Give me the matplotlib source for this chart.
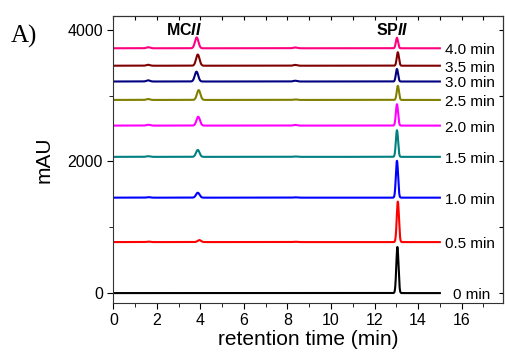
import numpy as np
import matplotlib.pyplot as plt

plt.rcParams['font.family'] = ['Liberation Sans', 'DejaVu Sans']
plt.rcParams['mathtext.fontset'] = 'custom'
plt.rcParams['mathtext.rm'] = 'Liberation Sans'
plt.rcParams['mathtext.bf'] = 'Liberation Sans:bold'
plt.rcParams['mathtext.bfit'] = 'Liberation Sans:italic:bold'

# irradiation times, trace colours, baseline offsets (mAU)
labels = ['0 min', '0.5 min', '1.0 min', '1.5 min', '2.0 min',
          '2.5 min', '3.0 min', '3.5 min', '4.0 min']
colors = ['#000000', '#ff0000', '#0000ff', '#008080', '#ff00ff',
          '#808000', '#000080', '#800000', '#ff0080']
offsets = [0, 775, 1450, 2070, 2545, 2935, 3215, 3455, 3720]

# peak heights (mAU above baseline)
mc_height = [0, 30, 75, 105, 135, 150, 150, 170, 165]
sp_height = [700, 615, 560, 405, 325, 215, 190, 205, 160]
mc_time = [3.9, 3.95, 3.88, 3.88, 3.9, 3.92, 3.82, 3.88, 3.83]
sp_time = [13.05, 13.07, 13.03, 13.03, 13.03, 13.07, 13.03, 13.07, 13.03]
# small impurity bumps
bump_time = [1.6, 8.35]
bump_height = [[0, 0], [8, 5], [8, 5], [10, 6], [12, 10],
                [14, 8], [18, 12], [14, 12], [16, 12]]

t = np.linspace(0, 15, 3000)

fig = plt.figure(figsize=(5.05, 3.56), dpi=100)
ax = fig.add_axes([0.2244, 0.149, 0.7716, 0.806])

for i in range(len(labels)):
    y = np.full_like(t, offsets[i], dtype=float)
    y += mc_height[i] * np.exp(-0.5 * ((t - mc_time[i]) / 0.08) ** 2)
    y += sp_height[i] * np.exp(-0.5 * ((t - sp_time[i]) / 0.05) ** 2)
    for bt, bh in zip(bump_time, bump_height[i]):
        y += bh * np.exp(-0.5 * ((t - bt) / 0.08) ** 2)
    ax.plot(t, y, color=colors[i], lw=1.5)
    xl = 15.6 if labels[i] == '0 min' else 15.25
    ax.text(xl, offsets[i] - 30, labels[i], fontsize=11, va='center', ha='left')

ax.text(3.25, 4000, r'$\mathbf{MC}\boldsymbol{II}$', fontsize=11.5, ha='center', va='center')
ax.text(12.8, 4000, r'$\mathbf{SP}\boldsymbol{II}$', fontsize=11.5, ha='center', va='center')

ax.set_xlim(0, 17.9)
ax.set_ylim(-150, 4210)
ax.set_xticks(np.arange(0, 17, 2))
ax.set_xticks(np.arange(1, 18, 2), minor=True)
ax.set_yticks([0, 2000, 4000])
ax.set_yticks([1000, 3000], minor=True)
ax.tick_params(which='both', direction='out', labelsize=11.5, top=False, right=False)
ax.tick_params(which='major', length=4)
ax.tick_params(which='minor', length=3)
ax.set_xlabel('retention time (min)', fontsize=15, labelpad=1)
ax.set_ylabel('mAU', fontsize=15, labelpad=10)

# inward mirror ticks on top and right
tx = ax.secondary_xaxis('top')
tx.set_xticks(np.arange(0, 18, 1))
tx.tick_params(direction='in', length=3, labeltop=False)
ty = ax.secondary_yaxis('right')
ty.set_yticks([0, 1000, 2000, 3000, 4000])
ty.tick_params(direction='in', length=3, labelright=False)

for s in ax.spines.values():
    s.set_color('#333333')

fig.text(0.022, 0.88, 'A)', fontsize=18, family='Liberation Serif')

fig.savefig('out.png', dpi=100)
